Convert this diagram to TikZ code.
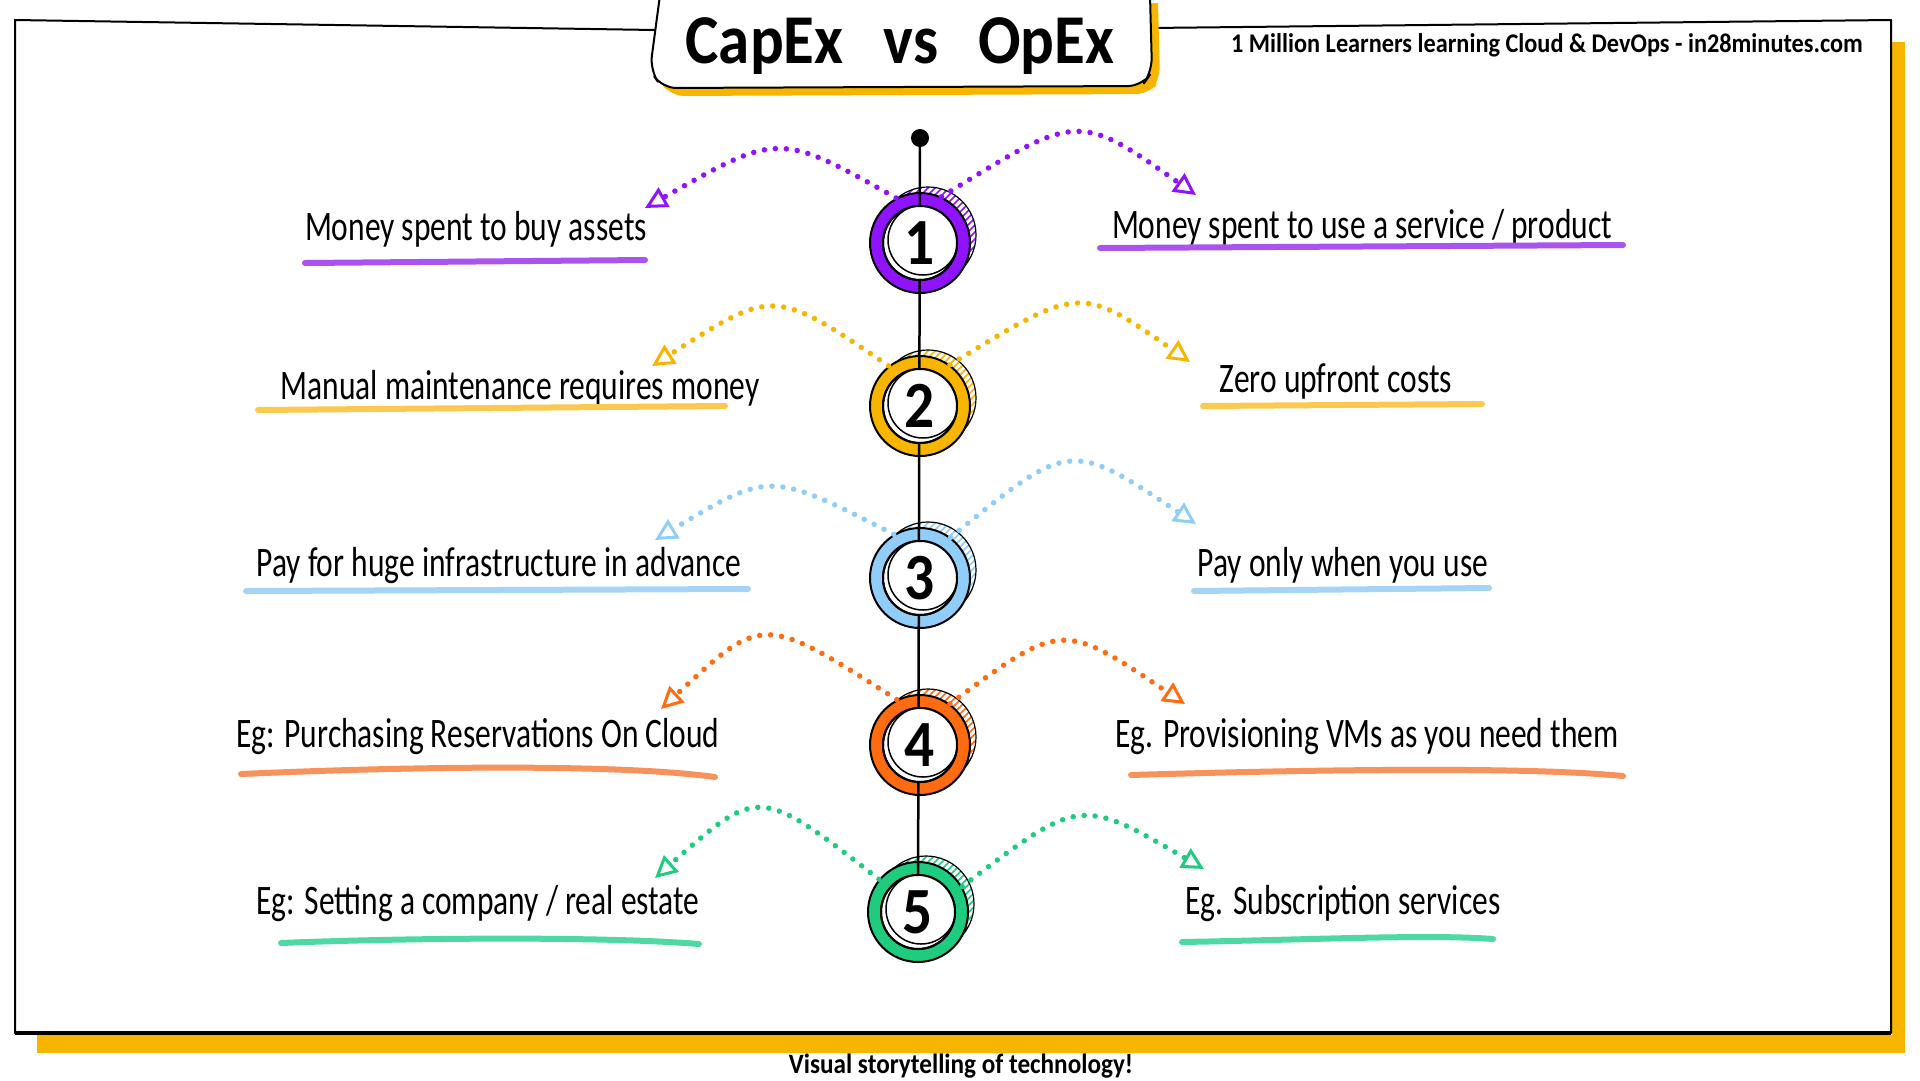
\documentclass[tikz,border=0pt]{standalone}
\usepackage{fontspec}
\setmainfont{Carlito}
\newfontfamily\hand[FakeStretch=0.75]{Carlito}
\newfontfamily\handb[FakeStretch=0.9]{Carlito}
\usetikzlibrary{arrows.meta}
\definecolor{cpurple}{HTML}{9013FE}
\definecolor{cyellow}{HTML}{F8B500}
\definecolor{cblue}{HTML}{90CDF8}
\definecolor{corange}{HTML}{FF6B10}
\definecolor{cgreen}{HTML}{1ECB7F}
\definecolor{upurple}{HTML}{A855F0}
\definecolor{uyellow}{HTML}{FBC94E}
\definecolor{ublue}{HTML}{A5D4F7}
\definecolor{uorange}{HTML}{F7935A}
\definecolor{ugreen}{HTML}{4ED9A2}

\begin{document}
\begin{tikzpicture}[x=1pt,y=-1pt,line join=round,
    ring/.style={circle,draw=black,line width=2pt,minimum size=100pt,inner sep=0pt},
    num/.style={font=\handb\bfseries\fontsize{66}{68}\selectfont,inner sep=0pt},
    txt/.style={anchor=base,inner sep=0pt,font=\hand\fontsize{42}{46}\selectfont},
    dots/.style={dash pattern=on 0pt off 11pt,line cap=round,line width=5.5pt,
      -{Triangle[open,length=22pt,width=22pt,line width=3pt]}},
    uline/.style={line width=6pt,line cap=round}]
    \useasboundingbox[fill=white] (0,0) rectangle (1920,1080);
    % frame
    \fill[cyellow] (37,1035) rectangle (1905,1053);
    \fill[cyellow] (1892,42) rectangle (1905,1053);
    \draw[line width=2pt] (655,30) -- (15,20) -- (15,1033) -- (1891,1033) -- (1891,20) -- (1150,28);
    \draw[line width=3.5pt] (15,1033) -- (1891,1033);
    \fill[cyellow,shift={(8,8)},rounded corners=14pt] (660,-5) -- (650,70) -- (662,88) -- (1142,86) -- (1152,72) -- (1150,-5);
    \filldraw[fill=white,draw=black,line width=2pt,rounded corners=14pt] (660,-5) -- (650,70) -- (662,88) -- (1142,86) -- (1152,72) -- (1150,-5);
    \node[anchor=base,inner sep=0pt,font=\handb\bfseries\fontsize{70}{72}\selectfont] (title) at (900,63) {CapEx\hspace{40pt}vs\hspace{40pt}OpEx};
    \node[anchor=base,inner sep=0pt,font=\handb\bfseries\fontsize{27}{29}\selectfont] (tag) at (1547,52) {1 Million Learners learning Cloud \& DevOps - in28minutes.com};
    \node[anchor=base,inner sep=0pt,font=\handb\bfseries\fontsize{28}{30}\selectfont] (foot) at (961,1073) {Visual storytelling of technology!};

    % timeline
    \foreach \n/\x/\y/\col in {1/920/243/cpurple,2/920/406/cyellow,3/920/578/cblue,4/920/745/corange,5/918/912/cgreen}{
      \begin{scope}
        \clip (\x+8,\y-8) circle (48);
        \foreach \k in {-110,-103,...,110}
          \draw[\col,line width=1.6pt] (\x+8+\k-60,\y+52) -- (\x+8+\k+60,\y-68);
      \end{scope}
      \draw[line width=1.2pt] (\x+8,\y-8) circle (48);
      \node[ring,fill=\col] (c\n) at (\x,\y) {};
    }
    \node[circle,fill=black,minimum size=18pt,inner sep=0pt] (dot) at (920,138) {};
    \draw[line width=2.5pt] (dot) -- (c5.center);
    \foreach \n in {1,...,5}{
      \filldraw[fill=white,draw=black,line width=2pt] (c\n) circle (37);
      \begin{scope}
        \clip (c\n) circle (37);
        \foreach \k in {-80,-75,...,80}
          \draw[line width=1.2pt] ([shift={(\k-50,50)}]c\n) -- ([shift={(\k+50,-50)}]c\n);
        \filldraw[fill=white,draw=black,line width=1.5pt] ([shift={(3,-3)}]c\n) circle (35);
      \end{scope}
      \draw[line width=2pt] (c\n) circle (37);
      \node[num] (n\n) at (c\n) {\n};
    }

    % texts
    \node[txt] (l1) at (476,240) {Money spent to buy assets};
    \node[txt] (r1) at (1362,238) {Money spent to use a service / product};
    \node[txt] (l2) at (520,399) {Manual maintenance requires money};
    \node[txt] (r2) at (1336,392) {Zero upfront costs};
    \node[txt] (l3) at (499,576) {Pay for huge infrastructure in advance};
    \node[txt] (r3) at (1343,576) {Pay only when you use};
    \node[txt] (l4) at (478,747) {Eg: Purchasing Reservations On Cloud};
    \node[txt] (r4) at (1367,747) {Eg. Provisioning VMs as you need them};
    \node[txt] (l5) at (478,914) {Eg: Setting a company / real estate};
    \node[txt] (r5) at (1343,914) {Eg. Subscription services};

    \draw[uline,upurple] (305,263) -- (645,260);
    \draw[uline,upurple] (1100,248) -- (1623,245);
    \draw[uline,uyellow] (258,410) -- (725,406);
    \draw[uline,uyellow] (1203,406) -- (1482,404);
    \draw[uline,ublue] (246,591) -- (748,589);
    \draw[uline,ublue] (1194,591) -- (1489,588);
    \draw[uline,uorange] (241,774) .. controls (420,766) and (620,764) .. (715,777);
    \draw[uline,uorange] (1131,775) .. controls (1300,770) and (1520,766) .. (1623,776);
    \draw[uline,ugreen] (281,943) .. controls (400,938) and (600,936) .. (699,944);
    \draw[uline,ugreen] (1182,942) .. controls (1300,940) and (1430,934) .. (1493,939);

    % arrows
    \coordinate (al1) at (645,208);  \coordinate (ar1) at (1196,195);
    \coordinate (al2) at (652,366);  \coordinate (ar2) at (1190,362);
    \coordinate (al3) at (655,540);  \coordinate (ar3) at (1196,524);
    \coordinate (al4) at (661,709);  \coordinate (ar4) at (1185,704);
    \coordinate (al5) at (655,878);  \coordinate (ar5) at (1204,869);
    \draw[dots,cpurple] (c1.118) .. controls (779,132) .. (al1);
    \draw[dots,cpurple] (c1.65) .. controls (1078,112) .. (ar1);
    \draw[dots,cyellow] (c2.128) .. controls (774,288) .. (al2);
    \draw[dots,cyellow] (c2.54) .. controls (1080,285) .. (ar2);
    \draw[dots,cblue] (c3.121) .. controls (770,471) .. (al3);
    \draw[dots,cblue] (c3.53) .. controls (1070,440) .. (ar3);
    \draw[dots,corange] (c4.117) .. controls (763,614) .. (al4);
    \draw[dots,corange] (c4.54) .. controls (1062,621) .. (ar4);
    \draw[dots,cgreen] (c5.140) .. controls (759,786) .. (al5);
    \draw[dots,cgreen] (c5.30) .. controls (1080,797) .. (ar5);
\end{tikzpicture}
\end{document}
